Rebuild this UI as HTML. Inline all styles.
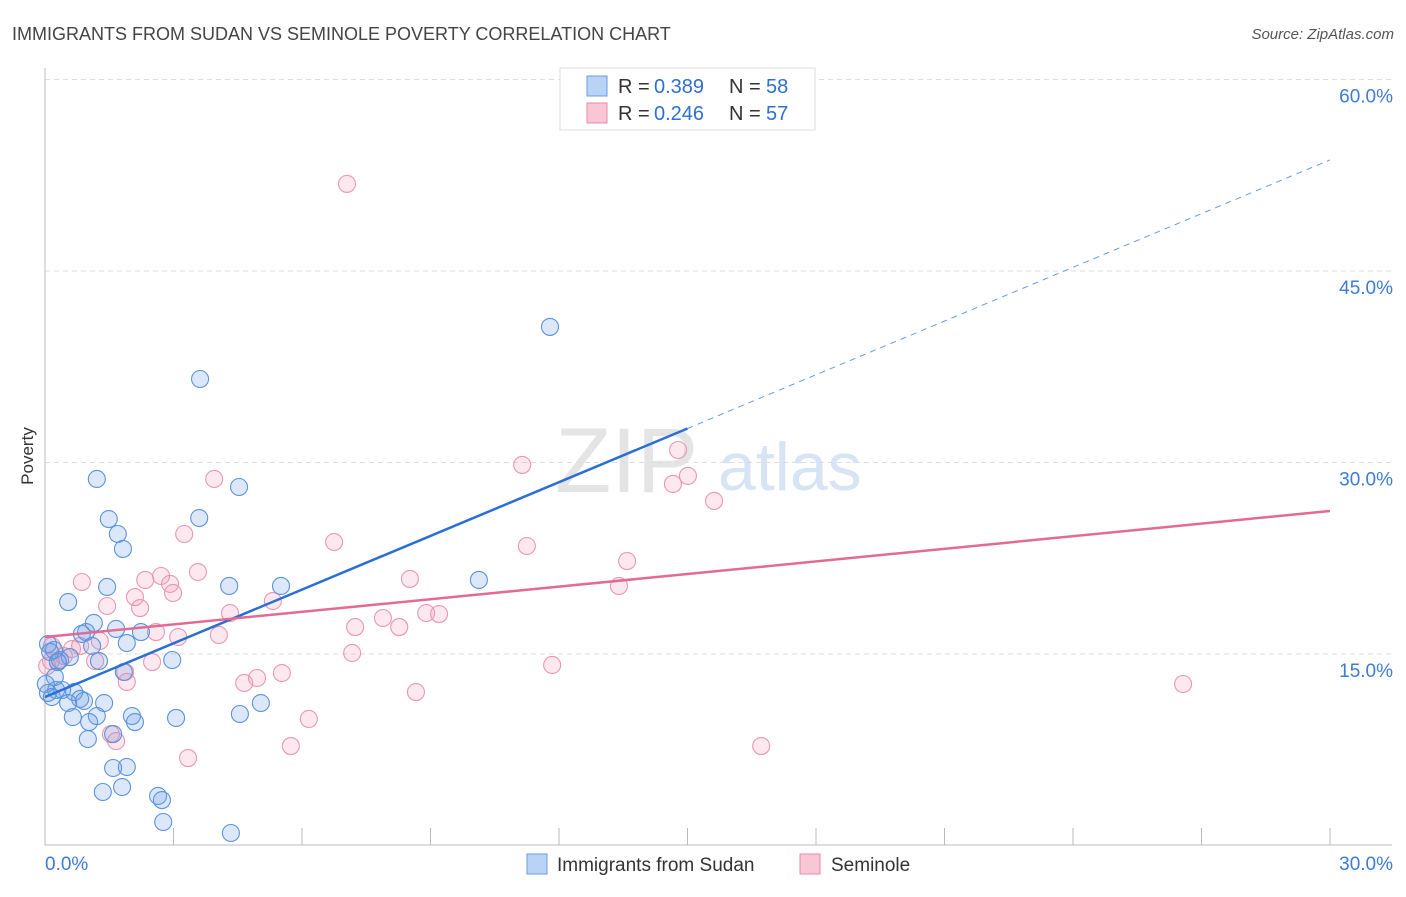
<!DOCTYPE html>
<html><head><meta charset="utf-8"><style>
body{margin:0;background:#fff;font-family:"Liberation Sans",sans-serif;}
svg text{font-family:"Liberation Sans",sans-serif;}
</style></head><body>
<svg id="c" width="1406" height="892" xmlns="http://www.w3.org/2000/svg">
<text x="12" y="40" font-size="18" fill="#444">IMMIGRANTS FROM SUDAN VS SEMINOLE POVERTY CORRELATION CHART</text>
<text x="1394" y="39" font-size="15" fill="#555" text-anchor="end" font-style="italic">Source: ZipAtlas.com</text>
<text x="555" y="492" font-size="92" fill="#e4e4e4" font-family="Liberation Serif">ZIP</text>
<text x="718" y="490" font-size="68" fill="#d6e4f5">atlas</text>
<text transform="translate(33,456) rotate(-90)" font-size="17" fill="#333" text-anchor="middle">Poverty</text>
<g id="grid"></g><g id="pts"></g><g id="lines"></g>
<g>
<rect x="560" y="68" width="255" height="62" fill="#fff" stroke="#ddd"/>
<rect x="587" y="76" width="20" height="20" fill="#b9d3f5" stroke="#6a9be0"/>
<text x="618" y="93" font-size="20" fill="#333">R =</text>
<text x="654" y="93" font-size="20" fill="#2f6fd0">0.389</text>
<text x="729" y="93" font-size="20" fill="#333">N =</text>
<text x="766" y="93" font-size="20" fill="#2f6fd0">58</text>
<rect x="587" y="103" width="20" height="20" fill="#f9c6d5" stroke="#e88aa8"/>
<text x="618" y="120" font-size="20" fill="#333">R =</text>
<text x="654" y="120" font-size="20" fill="#2f6fd0">0.246</text>
<text x="729" y="120" font-size="20" fill="#333">N =</text>
<text x="766" y="120" font-size="20" fill="#2f6fd0">57</text>
</g>
<g>
<rect x="527" y="854" width="20" height="20" fill="#b9d3f5" stroke="#6a9be0"/>
<text x="557" y="871" font-size="19" fill="#333">Immigrants from Sudan</text>
<rect x="800" y="854" width="20" height="20" fill="#f9c6d5" stroke="#e88aa8"/>
<text x="831" y="871" font-size="19" fill="#333">Seminole</text>
</g>
</svg>
<script>
const yTicks=[15,30,45,60];
const yTickLabels=["15.0%","30.0%","45.0%","60.0%"];
const xTickLabels=["0.0%","30.0%"];
const blueX=[3.62,11.79,1.21,4.53,1.49,3.60,1.70,1.82,10.13,5.51,4.30,1.45,0.54,1.14,1.66,2.24,0.96,1.91,1.10,0.21,0.07,0.58,0.35,1.26,2.97,1.84,0.23,0.07,0.26,0.40,0.68,0.82,0.91,0.54,1.38,5.04,1.21,0.65,2.03,2.10,1.03,3.06,4.55,1.00,1.59,1.59,1.91,1.35,1.80,2.64,2.73,2.76,4.34,0.12,0.02,0.30,0.16,0.86];
const blueY=[36.54,40.62,28.71,28.08,25.57,25.65,24.40,23.23,20.80,20.33,20.33,20.25,19.07,17.43,16.96,16.72,16.72,15.86,15.63,15.31,15.78,14.76,14.53,14.45,14.53,13.59,13.20,11.95,12.18,12.18,12.02,11.48,11.32,11.16,11.16,11.16,10.14,10.06,10.14,9.67,9.67,9.99,10.30,8.34,8.73,6.07,6.15,4.19,4.58,3.88,3.56,1.84,0.98,15.16,12.65,14.37,11.63,16.57];
const pinkX=[7.05,11.14,14.78,15.01,14.66,15.62,3.95,3.25,11.25,6.75,13.59,13.40,8.52,3.57,0.86,2.34,2.71,2.92,2.99,2.10,1.45,2.22,4.32,5.32,8.90,9.20,7.89,7.24,8.27,2.59,3.11,4.06,1.28,0.63,0.82,0.16,1.17,2.50,7.17,11.84,1.87,1.91,5.53,4.95,4.65,8.66,26.57,6.16,1.54,1.66,3.34,5.74,16.72,0.30,0.44,0.05,0.14];
const pinkY=[51.82,29.81,30.98,28.95,28.32,26.99,28.71,24.40,23.46,23.77,22.28,20.33,20.88,21.42,20.64,20.80,21.11,20.49,19.78,19.46,18.76,18.60,18.21,19.15,18.21,18.13,17.82,17.11,17.11,16.72,16.33,16.49,16.02,15.39,15.63,15.63,14.45,14.37,15.08,14.14,13.59,12.81,13.51,13.12,12.73,12.02,12.65,9.91,8.73,8.18,6.85,7.79,7.79,14.45,14.84,14.06,14.45];
const blueTrend=[11.63,53.7];
const pinkTrend=[16.33,26.2];
const NS="http://www.w3.org/2000/svg";
const sx=v=>45+v/30*1285;
const sy=v=>845.5-v/15*191.5;
function mk(t,a,p){const e=document.createElementNS(NS,t);for(const k in a)e.setAttribute(k,a[k]);p.appendChild(e);return e;}
const grid=document.getElementById('grid');
yTicks.forEach((t,i)=>{
 const l=mk('line',{x1:45,x2:1392,y1:sy(t),y2:sy(t),stroke:'#ddd','stroke-dasharray':'5,4'},grid);
 
 
 const tx=mk('text',{x:1393,y:sy(t)+23,'font-size':19,fill:'#3d7bd6','text-anchor':'end'},grid);
 tx.textContent=yTickLabels[i];
 
 
});
const ax=mk('line',{x1:45,x2:1392,y1:845,y2:845,stroke:'#bbb'},grid);


const ay=mk('line',{x1:45,x2:45,y1:68,y2:845,stroke:'#bbb'},grid);


for(let i=1;i<=10;i++){
 const t=mk('line',{x1:sx(i*3),x2:sx(i*3),y1:828,y2:845,stroke:'#bbb'},grid);
 
 
}
[[0,'start',45],[30,'end',1393]].forEach((d,i)=>{
 const tx=mk('text',{x:d[2],y:870,'font-size':19,fill:'#3d7bd6','text-anchor':d[1]},grid);
 tx.textContent=xTickLabels[i];
 
 
});
const pts=document.getElementById('pts');
pinkX.forEach((x,i)=>{
 const c=mk('circle',{cx:sx(x),cy:sy(pinkY[i]),r:8.5,fill:'rgba(244,150,180,0.22)',stroke:'#eb97b3','stroke-width':1.1},pts);
 
 
});
blueX.forEach((x,i)=>{
 const c=mk('circle',{cx:sx(x),cy:sy(blueY[i]),r:8.5,fill:'rgba(110,160,230,0.24)',stroke:'#5b93dc','stroke-width':1.1},pts);
 
 
});
const lines=document.getElementById('lines');
const bAt=x=>blueTrend[0]+(blueTrend[1]-blueTrend[0])*x/30;
let l1=mk('line',{x1:sx(0),y1:sy(bAt(0)),x2:sx(15),y2:sy(bAt(15)),stroke:'#2a6fd6','stroke-width':2.5},lines);


let l2=mk('line',{x1:sx(15),y1:sy(bAt(15)),x2:sx(30),y2:sy(bAt(30)),stroke:'#6a9be0','stroke-width':1,'stroke-dasharray':'6,5'},lines);


let l3=mk('line',{x1:sx(0),y1:sy(pinkTrend[0]),x2:sx(30),y2:sy(pinkTrend[1]),stroke:'#e36a93','stroke-width':2.5},lines);


</script>
</body></html>
